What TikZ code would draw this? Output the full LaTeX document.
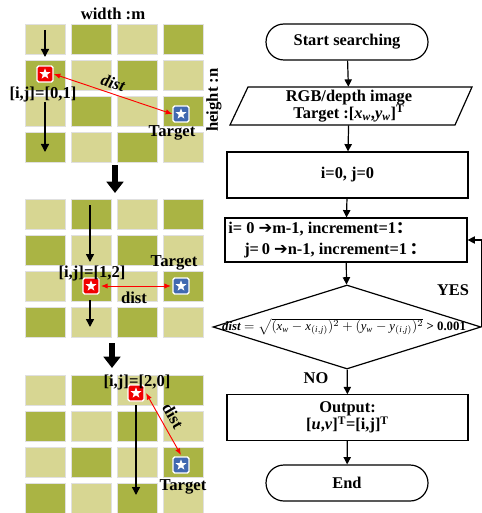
\documentclass[tikz,border=0pt]{standalone}
\usepackage{fontspec}
\setmainfont{Liberation Serif}
\newfontfamily\cjkf{Noto Sans CJK SC}
\newfontfamily\djv{DejaVu Sans}
\usetikzlibrary{shapes.geometric,shapes.misc,arrows.meta}
\definecolor{cl}{HTML}{D7D692}
\definecolor{cd}{HTML}{AAB444}
\definecolor{sred}{HTML}{F00000}
\definecolor{sblue}{HTML}{4169B0}
\newcommand{\mygrid}[1]{%
  \foreach \r in {0,1,2,3}{\foreach \c in {0,1,2,3}{%
    \pgfmathtruncatemacro{\k}{mod(\r+\c,2)}%
    \ifnum\k=0 \def\cc{cl}\else\def\cc{cd}\fi
    \filldraw[fill=\cc,draw=black!12,line width=0.4pt] (25+46*\c,#1+36*\r) rectangle ++(40,30);
  }}}
\tikzset{
  gtext/.style={font=\fontsize{12.5}{14}\selectfont\bfseries, inner sep=0},
  ftext/.style={font=\fontsize{12.3}{14}\selectfont\bfseries},
  icon/.style={draw=white, line width=1pt, rounded corners=1.2pt, minimum size=12pt, inner sep=0},
  whitestar/.style={star, star points=5, star point ratio=2.4, fill=white, inner sep=0, minimum size=8.5pt},
  blk/.style={-{Triangle[length=6pt,width=6pt]}, line width=1.1pt},
  bigarrow/.style={-{Triangle[length=8.5pt,width=12.5pt]}, line width=3.8pt},
  redarrow/.style={{Latex[length=5pt,width=4pt]}-{Latex[length=5pt,width=4pt]}, red, line width=0.7pt},
  flow/.style={-{Triangle[length=5.5pt,width=5.5pt]}, line width=0.9pt},
  boxn/.style={draw, line width=0.9pt, rectangle, ftext, align=center, inner sep=0},
  term/.style={draw, line width=0.9pt, rounded rectangle, ftext, inner sep=0, minimum width=121.5pt, minimum height=27pt},
}
\begin{document}
\begin{tikzpicture}[x=0.75pt,y=-0.75pt]
\useasboundingbox (0,0) rectangle (481,513);
% ---------------- grids ----------------
\mygrid{24}
\mygrid{199}
\mygrid{375}
% grid 1
\node[gtext] (w) at (113,14) {width :m};
\node[gtext, rotate=90] (h) at (214,100) {height :n};
\node[icon, fill=sred] (s1) at (45,74) {};
\node[whitestar] at (s1) {};
\node[icon, fill=sblue] (t1) at (181,114) {};
\node[whitestar] at (t1) {};
\node[gtext] (l1) at (43,94) {[i,j]=[0,1]};
\node[gtext] (tg1) at (172,133) {Target};
\node[gtext, rotate=-18] (d1) at (113,83) {\itshape dist};
\coordinate (a1s) at (45,30); \coordinate (a1e) at (45,57);
\coordinate (b1s) at (45,102); \coordinate (b1e) at (45,152);
\draw[blk] (a1s) -- (a1e);
\draw[blk] (b1s) -- (b1e);
\draw[redarrow] (s1.east) -- (t1.west);
% big arrow 1
\coordinate (ba1s) at (115,165); \coordinate (ba1e) at (115,193);
\draw[bigarrow] (ba1s) -- (ba1e);
% grid 2
\node[icon, fill=sred] (s2) at (91,286) {};
\node[whitestar] at (s2) {};
\node[icon, fill=sblue] (t2) at (181,286) {};
\node[whitestar] at (t2) {};
\node[gtext] (l2) at (92,273) {[i,j]=[1,2]};
\node[gtext] (tg2) at (174,263) {Target};
\node[gtext] (d2) at (134,298) {dist};
\coordinate (a2s) at (90,205); \coordinate (a2e) at (90,262);
\coordinate (b2s) at (90,300); \coordinate (b2e) at (90,327);
\draw[blk] (a2s) -- (a2e);
\draw[blk] (b2s) -- (b2e);
\draw[redarrow] ([xshift=1pt]s2.east) -- ([xshift=-1pt]t2.west);
% big arrow 2
\coordinate (ba2s) at (112,343); \coordinate (ba2e) at (112,368);
\draw[bigarrow] (ba2s) -- (ba2e);
% grid 3
\node[icon, fill=sred] (s3) at (136,393) {};
\node[whitestar] at (s3) {};
\node[icon, fill=sblue] (t3) at (181,465) {};
\node[whitestar] at (t3) {};
\node[gtext] (l3) at (137,382) {[i,j]=[2,0]};
\node[gtext] (tg3) at (183,487) {Target};
\node[gtext, rotate=-60] (d3) at (173,416) {dist};
\coordinate (a3s) at (136,405); \coordinate (a3e) at (136,495);
\draw[blk] (a3s) -- (a3e);
\draw[redarrow] ([xshift=1pt]s3.east) -- ([yshift=1pt]t3.north);
% ---------------- flowchart ----------------
\node[term] (start) at (347,42) {Start searching};
\node[ftext, align=center, minimum height=28.5pt, inner sep=0] (in) at (349,106) {RGB/depth image\\[-1pt]Target :[\textit{x}\textsubscript{\textit{w}},\textit{y}\textsubscript{\textit{w}}]\textsuperscript{T}};
\draw[line width=0.9pt] (248,87) -- (472,87) -- (455,125) -- (230,125) -- cycle;
\node[boxn, minimum width=180.75pt, minimum height=34.5pt] (init) at (347.5,175) {i=0, j=0};
\node[boxn, minimum width=181.5pt, minimum height=33pt] (loop) at (346,240) {};
\node[ftext, anchor=west, inner sep=0] (lt1) at (228,229) {i= 0 {\djv ➔}m-1, increment=1{\cjkf ：}};
\node[ftext, anchor=west, inner sep=0] (lt2) at (244,251) {j=\,0 {\djv ➔}n-1, increment=1\,{\cjkf ：}};
\node[diamond, draw, line width=0.9pt, minimum width=201pt, minimum height=63pt, inner sep=0] (dec) at (347,327) {};
\node[font=\fontsize{9.6}{11}\selectfont, inner sep=0] (form) at (344,327) {\textbf{\itshape dist} $=\sqrt{(\mathit{x}_{\mathit{w}}-\mathit{x}_{(\mathit{i},\mathit{j})})^{2}+(\mathit{y}_{\mathit{w}}-\mathit{y}_{(\mathit{i},\mathit{j})})^{2}}$ \textbf{> 0.001}};
\node[boxn, minimum width=180.75pt, minimum height=34pt] (out) at (347.5,417.5) {Output:\\[-1pt][\textit{u},\textit{v}]\textsuperscript{T}=[i,j]\textsuperscript{T}};
\node[term] (end) at (347,483) {End};
\draw[flow] (start) -- (in);
\draw[flow] (in) -- (init);
\draw[flow] (init) -- (loop);
\draw[flow] (loop) -- (dec);
\draw[flow] (dec) -- (out);
\draw[flow] (out) -- (end);
\draw[flow] (dec.east) |- (loop.east);
\node[ftext, inner sep=0] (no) at (316,378) {NO};
\node[ftext, inner sep=0] (yes) at (453,290) {YES};
\end{tikzpicture}
\end{document}
